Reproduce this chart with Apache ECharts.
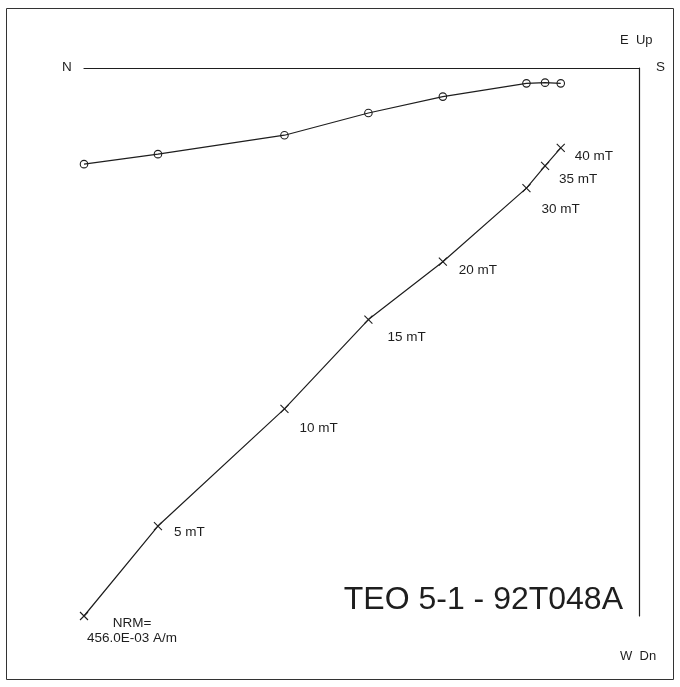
<!DOCTYPE html>
<html>
<head>
<meta charset="utf-8">
<script src="https://cdn.jsdelivr.net/npm/echarts@6/dist/echarts.min.js"></script>
<style>html,body{margin:0;padding:0;background:#fff}#c{width:680px;height:687px}</style>
</head>
<body>
<div id="c"></div>
<script>
// Demagnetization steps
const steps = ['NRM', '5 mT', '10 mT', '15 mT', '20 mT', '30 mT', '35 mT', '40 mT'];
// Components in mA/m (north +, east +, up +)
const north = [322.0, 279.1, 205.7, 157.0, 113.8, 65.3, 54.5, 45.4];
const east  = [-55.8, -50.0, -39.0, -26.1, -16.6, -8.9, -8.5, -8.9];
const up    = [-318.0, -265.8, -197.8, -146.0, -112.4, -69.7, -56.8, -46.4];
const nrmText = 'NRM=\n456.0E-03 A/m';
const sampleTitle = 'TEO 5-1 - 92T048A';
const axisNorthMax = 322;
const axisDownMin = -318;

// label offsets (styling only)
const labelOffsets = [[48, 15], [16, 6], [15, 19], [19, 18], [16, 9], [15, 21], [14, 13], [14, 8]];

const ink = '#1e1e1e';
const crossPath = 'path://M0,0L10,10M10,0L0,10';

const horiz = north.map((n, i) => [n, east[i]]);
const vert = north.map((n, i) => ({
  value: [n, up[i]],
  label: i === 0 ? {
    show: true, formatter: nrmText, position: 'inside', align: 'center', verticalAlign: 'middle',
    offset: labelOffsets[i], lineHeight: 14.5
  } : {
    show: true, formatter: steps[i], position: 'inside', align: 'left', verticalAlign: 'middle',
    offset: labelOffsets[i]
  }
}));

const chart = echarts.init(document.getElementById('c'), null, {renderer: 'canvas'});
chart.setOption({
  backgroundColor: '#fff',
  animation: false,
  grid: {left: 84, right: 41, top: 68, bottom: 71, containLabel: false},
  xAxis: {
    type: 'value', min: 0, max: axisNorthMax, inverse: true, position: 'top',
    axisLine: {show: true, onZero: false, lineStyle: {color: ink, width: 1.2}},
    axisTick: {show: false}, axisLabel: {show: false}, splitLine: {show: false}
  },
  yAxis: {
    type: 'value', min: axisDownMin, max: 0, position: 'right',
    axisLine: {show: true, onZero: false, lineStyle: {color: ink, width: 1.2}},
    axisTick: {show: false}, axisLabel: {show: false}, splitLine: {show: false}
  },
  series: [
    {
      type: 'line', data: horiz, symbol: 'circle', symbolSize: 7.5,
      itemStyle: {color: 'rgba(0,0,0,0)', borderColor: ink, borderWidth: 1.1},
      lineStyle: {color: ink, width: 1.2}
    },
    {
      type: 'line', data: vert, symbol: crossPath, symbolSize: 8,
      itemStyle: {color: 'rgba(0,0,0,0)', borderColor: ink, borderWidth: 1.1},
      lineStyle: {color: ink, width: 1.2},
      label: {color: ink, fontFamily: 'Liberation Sans, Arial, sans-serif', fontSize: 13.5}
    }
  ],
  graphic: [
    {type: 'rect', shape: {x: 6.5, y: 8.5, width: 667, height: 671}, style: {fill: 'none', stroke: '#333', lineWidth: 1}, silent: true},
    {type: 'text', left: 62, top: 60, style: {text: 'N', fill: ink, font: '13.5px "Liberation Sans", Arial, sans-serif'}},
    {type: 'text', left: 656, top: 60, style: {text: 'S', fill: ink, font: '13.5px "Liberation Sans", Arial, sans-serif'}},
    {type: 'text', left: 620, top: 34, style: {text: 'E  Up', fill: ink, font: '13px "Liberation Sans", Arial, sans-serif'}},
    {type: 'text', left: 620, top: 650, style: {text: 'W  Dn', fill: ink, font: '13px "Liberation Sans", Arial, sans-serif'}},
    {type: 'text', right: 57, top: 584, style: {text: sampleTitle, fill: ink, font: '32px "Liberation Sans", Arial, sans-serif'}}
  ]
});
</script>
</body>
</html>
